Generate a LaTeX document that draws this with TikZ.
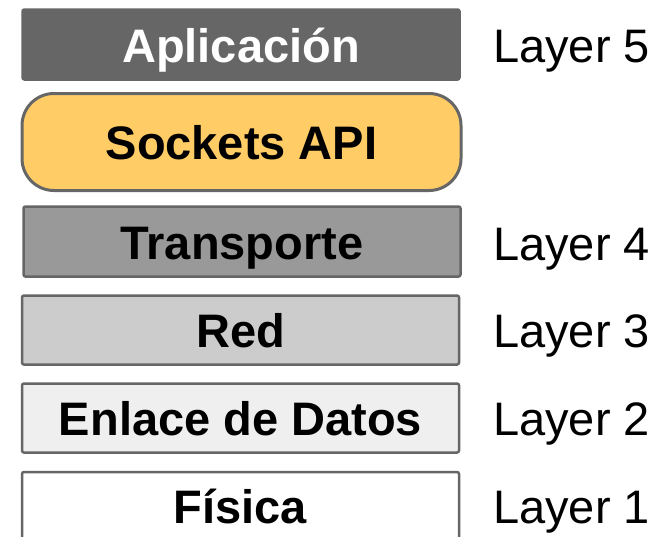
\documentclass[tikz,border=0pt]{standalone}
\usepackage{fontspec}
\setmainfont{Liberation Sans}
\definecolor{appgray}{HTML}{666666}
\definecolor{edgegray}{HTML}{666666}
\definecolor{apiyellow}{HTML}{FFCC66}
\definecolor{l4gray}{HTML}{999999}
\definecolor{l3gray}{HTML}{CCCCCC}
\definecolor{l2gray}{HTML}{EFEFEF}
\begin{document}
\begin{tikzpicture}[x=1pt,y=-1pt,
  layerbox/.style={draw=edgegray, line width=2.5pt, rounded corners=2pt,
    minimum width=437pt, inner sep=0pt, font=\fontsize{47}{47}\selectfont\bfseries,
    text height=35pt, text depth=0pt},
  layertag/.style={anchor=base west, inner sep=0pt, font=\fontsize{47}{47}\selectfont}]
\useasboundingbox (0,0) rectangle (668,536);
\fill[white] (0,0) rectangle (668,536);

% protocol stack
\node[layerbox, draw=appgray, fill=appgray, text=white, minimum height=70pt]
  (app) at (241,44.5) {Aplicación};
\node[layerbox, fill=apiyellow, line width=3pt, rounded corners=32pt,
  minimum width=439pt, minimum height=97pt] (api) at (241.5,142) {Sockets API};
\node[layerbox, fill=l4gray, minimum height=70pt] (trans) at (242,241.5) {Transporte};
\node[layerbox, fill=l3gray, minimum height=69pt] (net) at (240.5,330) {Red};
\node[layerbox, fill=l2gray, minimum height=69pt] (link) at (240.5,418) {Enlace de Datos};
\node[layerbox, fill=white, minimum height=68pt] (phys) at (240.5,506) {Física};

% layer numbers
\node[layertag] (t5) at (493,62) {Layer 5};
\node[layertag] (t4) at (493,260) {Layer 4};
\node[layertag] (t3) at (493,347) {Layer 3};
\node[layertag] (t2) at (493,435) {Layer 2};
\node[layertag] (t1) at (493,523) {Layer 1};
\end{tikzpicture}
\end{document}
